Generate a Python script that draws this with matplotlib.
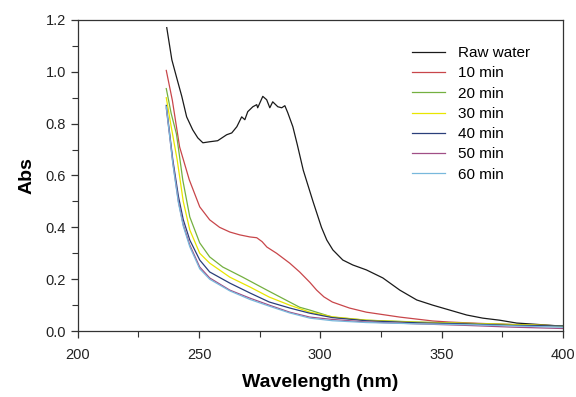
import numpy as np
import matplotlib.pyplot as plt
from matplotlib.ticker import MultipleLocator

plt.rcParams['font.family'] = ['Liberation Sans', 'DejaVu Sans']

# Absorbance spectra (wavelength nm, Abs)
raw_wl = [236.7, 238.8, 240.7, 242.9, 244.9, 247.4, 249.5, 251.6, 254.4, 257.7,
          261.4, 263.5, 265.6, 267.6, 268.9, 270.1, 272.2, 273.8, 274.2, 276.3,
          277.9, 279.2, 280.4, 282.5, 284.1, 285.4, 286.6, 288.7, 290.5, 293.0,
          297.0, 300.5, 302.7, 305.2, 309.3, 313.4, 319.0, 325.8, 332.8, 339.8,
          346.4, 353.4, 360.4, 367.0, 374.0, 381.0, 387.6, 400.0]
raw_abs = [1.17, 1.046, 0.98, 0.905, 0.826, 0.776, 0.745, 0.726, 0.73, 0.734,
           0.757, 0.764, 0.788, 0.826, 0.815, 0.846, 0.865, 0.873, 0.861, 0.905,
           0.892, 0.861, 0.884, 0.865, 0.861, 0.869, 0.842, 0.788, 0.72, 0.62,
           0.50, 0.40, 0.351, 0.313, 0.274, 0.255, 0.236, 0.205, 0.158, 0.12,
           0.10, 0.081, 0.062, 0.05, 0.042, 0.031, 0.027, 0.019]

m10_wl = [236.5, 239.0, 242.0, 246.0, 250.3, 254.4, 258.5, 262.7, 266.8, 271.0,
          273.8, 276.0, 278.0, 282.0, 287.4, 291.5, 295.7, 298.5, 301.5, 305.0,
          312.0, 319.0, 332.8, 346.4, 353.0, 365.0, 380.0, 400.0]
m10_abs = [1.005, 0.89, 0.71, 0.583, 0.479, 0.429, 0.40, 0.382, 0.371, 0.363,
           0.36, 0.345, 0.324, 0.30, 0.262, 0.228, 0.188, 0.158, 0.132, 0.112,
           0.089, 0.073, 0.054, 0.039, 0.035, 0.03, 0.025, 0.02]

m20_wl = [236.5, 238.5, 240.7, 243.3, 246.2, 250.3, 254.4, 259.8, 268.0, 278.0,
          287.4, 291.5, 295.7, 305.0, 319.0, 340.0, 360.0, 380.0, 400.0]
m20_abs = [0.935, 0.84, 0.76, 0.583, 0.44, 0.34, 0.286, 0.247, 0.208, 0.158,
           0.112, 0.092, 0.081, 0.054, 0.042, 0.035, 0.03, 0.025, 0.02]

m30_wl = [236.5, 238.5, 241.0, 243.5, 246.2, 250.3, 254.4, 262.7, 271.0, 279.0,
          287.4, 295.7, 305.0, 319.0, 340.0, 360.0, 380.0, 400.0]
m30_abs = [0.90, 0.79, 0.66, 0.50, 0.39, 0.30, 0.262, 0.208, 0.17, 0.131,
           0.10, 0.073, 0.055, 0.042, 0.034, 0.03, 0.025, 0.02]

m40_wl = [236.5, 237.8, 239.2, 241.5, 243.5, 246.2, 250.3, 254.4, 262.7, 271.0,
          279.0, 287.4, 295.7, 305.0, 319.0, 340.0, 360.0, 380.0, 400.0]
m40_abs = [0.87, 0.77, 0.66, 0.52, 0.43, 0.351, 0.274, 0.228, 0.185, 0.147,
           0.112, 0.089, 0.069, 0.052, 0.04, 0.032, 0.028, 0.022, 0.02]

m50_wl = [236.5, 237.8, 239.2, 241.5, 243.5, 246.2, 250.3, 254.4, 262.7, 271.0,
          279.0, 287.4, 295.7, 305.0, 319.0, 340.0, 360.0, 380.0, 400.0]
m50_abs = [0.86, 0.76, 0.65, 0.50, 0.41, 0.332, 0.247, 0.205, 0.158, 0.127,
           0.10, 0.073, 0.054, 0.045, 0.035, 0.028, 0.022, 0.015, 0.01]

m60_wl = [236.5, 237.8, 239.2, 241.5, 243.5, 246.2, 250.3, 254.4, 262.7, 271.0,
          279.0, 287.4, 295.7, 305.0, 319.0, 340.0, 360.0, 380.0, 400.0]
m60_abs = [0.865, 0.76, 0.645, 0.495, 0.405, 0.325, 0.24, 0.20, 0.155, 0.122,
           0.096, 0.07, 0.05, 0.04, 0.033, 0.028, 0.025, 0.02, 0.015]

labels = ['Raw water', '10 min', '20 min', '30 min', '40 min', '50 min', '60 min']
colors = ['#1a1a1a', '#c8464a', '#74b040', '#e8e600', '#2a3f7a', '#a04f86', '#78b8dc']

series = [(raw_wl, raw_abs), (m10_wl, m10_abs), (m20_wl, m20_abs), (m30_wl, m30_abs),
          (m40_wl, m40_abs), (m50_wl, m50_abs), (m60_wl, m60_abs)]

fig = plt.figure(figsize=(5.76, 3.97), dpi=100)
ax = fig.add_axes([0.135, 0.166, 0.842, 0.784])

for (wl, ab), lab, c in zip(series, labels, colors):
    ax.plot(wl, ab, color=c, lw=0.9, label=lab)

ax.set_xlim(200, 400)
ax.set_ylim(0, 1.2)
ax.xaxis.set_major_locator(MultipleLocator(50))
ax.xaxis.set_minor_locator(MultipleLocator(25))
ax.yaxis.set_major_locator(MultipleLocator(0.2))
ax.yaxis.set_minor_locator(MultipleLocator(0.1))
ax.yaxis.set_major_formatter(plt.FuncFormatter(lambda v, p: f'{v:.1f}'))
ax.tick_params(which='both', direction='out', top=False, right=False, labelsize=10.5,
               color='#333333', labelcolor='#222222')
ax.tick_params(which='major', length=5, width=0.9)
ax.tick_params(which='minor', length=4, width=0.8)
ax.tick_params(axis='x', pad=7)
for s in ax.spines.values():
    s.set_linewidth(0.9)
    s.set_color('#333333')

ax.set_xlabel('Wavelength (nm)', fontsize=14, fontweight='bold', labelpad=9)
ax.set_ylabel('Abs', fontsize=14, fontweight='bold', labelpad=7)

ax.legend(loc='upper left', bbox_to_anchor=(0.673, 0.94), frameon=False, fontsize=11,
          handlelength=2.2, handletextpad=0.85, labelspacing=0.41, borderpad=0)

fig.savefig('out.png', dpi=100)
